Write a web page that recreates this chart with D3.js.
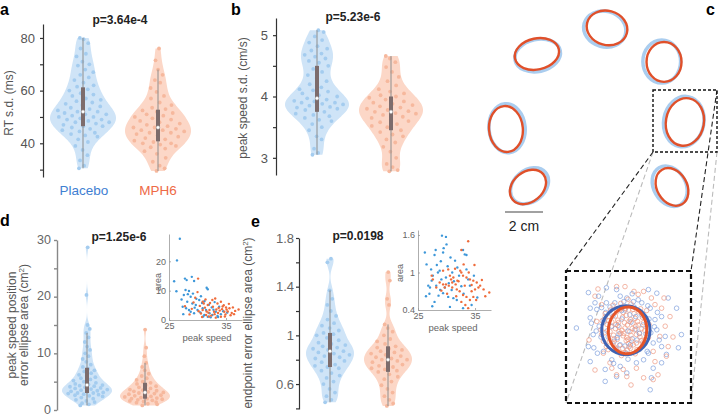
<!DOCTYPE html>
<html><head><meta charset="utf-8">
<script src="https://cdn.jsdelivr.net/npm/d3@7"></script>
<style>body{margin:0;background:#fff}svg{display:block}</style>
</head><body>
<svg id="fig" width="720" height="416"></svg>
<script>
// ---------------- DATA ----------------
const groups = ["Placebo", "MPH6"];
// panel a: RT s.d. (ms)
const aPlacebo = [30.5,31.5,33.5,35.5,37.5,39,40.5,41.5,42.5,43,43.5,44,44.5,45,45.5,46,46.5,46.5,47,47.5,48,48,48.5,49,49,49.5,50,50,50.5,51,51,51.5,52,52,52.5,53,53.5,54,54.5,55,55.5,56,56.5,57,58,58.5,59,60,60.5,61.5,62,63,64,65,66,67,68,69.5,70,71,73,74,76,78,79.5,80];
const aMPH6 = [29.5,30.5,31.5,33,34.5,36,37,38,38.5,39,39.5,40,40,40.5,41,41.5,42,42.5,43,43.5,44,44,44.5,45,45,45.5,46,46,46.5,47,47.5,48,48.5,49,49.5,50,50.5,51,51.5,52,52.5,53,53.5,54.5,55.5,57,58,59.5,61,63,64,66,68,71.5,76];
// panel b: peak speed s.d. (cm/s)
const bPlacebo = [3.05,3.08,3.15,3.3,3.35,3.45,3.5,3.55,3.6,3.62,3.65,3.68,3.7,3.72,3.75,3.78,3.8,3.8,3.82,3.83,3.85,3.87,3.88,3.9,3.9,3.92,3.93,3.95,3.97,4.0,4.02,4.05,4.08,4.1,4.12,4.15,4.2,4.25,4.3,4.35,4.4,4.45,4.5,4.55,4.58,4.62,4.65,4.68,4.7,4.75,4.78,4.82,4.88,4.92,4.98,5.05,5.08];
const bMPH6 = [2.78,2.8,2.85,2.9,3.0,3.1,3.18,3.25,3.3,3.35,3.38,3.42,3.45,3.5,3.52,3.55,3.58,3.6,3.62,3.65,3.67,3.7,3.72,3.73,3.75,3.76,3.78,3.8,3.82,3.84,3.86,3.88,3.9,3.92,3.95,3.98,4.0,4.02,4.05,4.08,4.12,4.18,4.25,4.32,4.4,4.48,4.56,4.62,4.66];
// panel d: peak speed position error ellipse area (cm^2)
const dPlacebo = [0.8,1.0,1.2,1.4,1.6,1.8,2.0,2.2,2.4,2.5,2.6,2.7,2.8,2.9,3.0,3.0,3.1,3.2,3.3,3.4,3.5,3.6,3.7,3.8,3.9,4.0,4.1,4.2,4.3,4.4,4.5,4.6,4.8,5.0,5.2,5.4,5.6,5.8,6.0,6.2,6.5,6.8,7.0,7.3,7.6,8.0,8.5,9.0,9.5,10.0,10.6,11.2,12.0,12.8,13.6,14.3,15.0,20.3,28.7];
const dMPH6 = [0.8,1.0,1.1,1.3,1.4,1.5,1.6,1.7,1.8,1.9,2.0,2.0,2.1,2.2,2.3,2.4,2.5,2.6,2.7,2.8,2.9,3.0,3.1,3.2,3.3,3.4,3.5,3.6,3.8,4.0,4.2,4.4,4.6,4.8,5.0,5.3,5.6,6.0,6.4,7.0,7.6,8.3,9.5,11.0,14.2];
// panel e: endpoint error ellipse area (cm^2)
const ePlacebo = [0.45,0.47,0.5,0.53,0.56,0.6,0.62,0.65,0.67,0.69,0.71,0.73,0.74,0.75,0.76,0.78,0.79,0.8,0.81,0.82,0.83,0.84,0.85,0.86,0.87,0.88,0.89,0.9,0.91,0.92,0.93,0.94,0.96,0.98,1.0,1.01,1.02,1.04,1.06,1.08,1.1,1.13,1.16,1.2,1.25,1.3,1.37,1.6,1.63];
const eMPH6 = [0.42,0.44,0.47,0.5,0.53,0.56,0.59,0.62,0.64,0.66,0.68,0.7,0.71,0.72,0.73,0.74,0.75,0.76,0.77,0.78,0.79,0.8,0.8,0.81,0.82,0.83,0.84,0.85,0.86,0.87,0.88,0.89,0.9,0.91,0.93,0.95,0.97,1.0,1.03,1.06,1.09,1.25,1.3,1.45,1.52];
const pValues = ["p=3.64e-4", "p=5.23e-6", "p=1.25e-6", "p=0.0198"];
// insets: [peak speed, area]
const dInsetPlacebo = [[26.9,27.7],[26.4,20.3],[25.9,13.2],[26.3,9.8],[27.8,14.1],[28.1,13.6],[29.0,14.7],[29.4,13.3],[31.6,11.0],[31.8,10.5],[27.2,7.0],[27.9,10.2],[28.5,9.9],[28.8,7.9],[28.2,6.2],[27.4,4.5],[29.1,5.6],[29.7,5.1],[30.3,6.8],[30.6,8.1],[30.9,4.0],[31.5,3.4],[32.1,2.3],[32.6,1.7],[31.2,1.7],[33.2,2.8],[33.8,4.5],[30.0,3.4],[29.4,2.3],[28.8,2.8],[32.5,4.3],[31.8,1.1],[33.5,1.4],[34.1,2.0],[28.5,3.4],[27.6,8.5],[28.3,8.8],[29.2,9.0],[29.8,7.2],[30.8,5.8],[31.2,6.4],[32.0,5.2],[32.8,3.5],[33.0,6.1],[34.5,3.0],[35.2,2.5],[29.5,4.2],[30.5,2.6],[31.0,1.2],[32.3,0.9],[33.6,1.0],[28.0,4.0],[27.5,2.0]];
const dInsetMPH6 = [[30.1,14.1],[27.8,4.7],[30.9,6.2],[31.8,5.1],[32.6,6.8],[33.5,5.6],[34.1,6.2],[35.0,4.3],[35.6,4.0],[36.2,4.3],[37.2,3.6],[34.7,2.8],[32.9,2.8],[32.1,3.4],[30.9,3.4],[31.5,1.7],[34.1,1.1],[29.3,6.0],[29.6,7.6],[30.4,4.8],[31.3,4.2],[31.9,2.5],[32.4,1.5],[33.0,2.0],[33.3,3.6],[33.9,3.2],[34.4,4.6],[34.9,1.9],[35.3,2.9],[35.8,1.6],[36.0,2.4],[36.6,3.1],[35.5,5.5],[34.6,5.0],[33.7,4.1],[32.7,4.5],[31.6,2.9],[30.6,2.2],[30.2,3.0],[31.1,5.6],[32.2,5.8],[33.1,7.3],[31.4,7.0],[30.0,9.5],[29.0,3.8],[28.6,1.9],[33.6,2.4],[34.3,3.7],[35.1,3.6],[36.4,2.0],[32.0,1.2],[33.2,0.8],[30.8,1.0],[34.8,1.2]];
const eInsetPlacebo = [[26.2,1.32],[26.5,1.13],[29.2,1.59],[29.9,1.57],[28.1,1.36],[27.9,1.28],[29.5,1.39],[29.4,1.32],[30.7,1.24],[31.5,1.19],[32.9,1.36],[33.2,1.29],[33.5,1.28],[28.8,1.03],[28.5,1.0],[27.6,0.95],[27.4,0.87],[26.8,0.79],[27.1,0.76],[28.2,0.79],[29.1,0.89],[29.9,0.92],[30.4,0.83],[31.0,1.0],[32.2,0.95],[33.5,1.05],[33.8,0.89],[29.4,0.67],[30.3,0.61],[31.2,0.59],[32.9,0.43],[27.5,0.46],[27.9,0.53],[30.6,0.45],[34.4,0.48],[31.8,0.56],[34.1,0.79],[28.3,1.12],[29.0,1.18],[30.2,1.1],[31.3,0.86],[32.6,0.78],[30.9,0.72],[29.7,0.76],[28.6,0.63],[26.4,0.62],[27.0,0.66],[33.0,0.66],[34.8,0.95],[35.4,0.6],[31.9,1.08],[30.0,1.45],[27.3,1.05],[28.9,0.72]];
const eInsetMPH6 = [[33.8,1.5],[32.6,1.36],[29.4,1.03],[30.3,1.05],[31.5,1.06],[32.4,1.03],[32.6,1.0],[32.9,0.95],[33.5,0.92],[34.1,0.89],[34.7,0.87],[35.3,0.84],[35.9,0.79],[36.5,0.73],[37.5,0.68],[29.9,0.81],[30.4,0.79],[31.0,0.76],[31.8,0.73],[32.3,0.7],[32.9,0.64],[33.5,0.61],[34.1,0.56],[33.8,0.43],[27.4,0.95],[27.6,0.89],[28.2,0.76],[28.8,0.84],[29.4,0.81],[29.7,0.76],[30.8,0.89],[31.0,0.84],[31.6,0.81],[31.9,0.87],[33.2,0.79],[34.4,0.7],[35.0,0.73],[35.6,0.76],[34.7,0.61],[32.6,0.53],[30.6,0.95],[31.2,0.92],[33.9,1.0],[34.9,1.12],[36.2,0.88],[33.0,1.13],[31.7,0.62],[30.1,0.66],[35.2,0.56],[36.8,0.62],[32.1,0.86],[34.4,0.8],[29.1,0.71],[33.3,0.48]];
// panel c: endpoint error ellipses per target (cm, deg)
const targetX = [0.58,-3.11,3.58,-4.74,4.68,-3.58,4.0];
const targetY = [4.32,2.95,2.53,-1.0,-0.63,-4.05,-4.05];
const mphRx = [1.08,1.18,0.92,0.89,1.0,1.05,1.05];
const mphRy = [0.9,0.82,1.05,1.21,1.26,0.79,0.79];
const mphAngle = [15,-12,0,-5,10,-40,60];
const plcDx = [-0.12,0.04,-0.12,0.06,-0.06,0.08,-0.12];
const plcDy = [-0.06,-0.08,0.02,0.04,0.02,0.06,0.04];
const plcScale = [1.04,1.03,1.08,1.07,1.06,1.05,1.07];
const scaleBarCm = 2;
// panel c magnified target: endpoints (mm, y down) and ellipses
const zoomPlacebo = [[-8.1,0],[-6.1,-5.9],[-5.8,-1.7],[-5.0,-4.2],[-5.3,1.1],[-6.1,3.1],[-5.8,5.6],[-4.6,4.2],[-3.3,6.9],[-3.3,8.9],[-1.4,8.1],[0.3,7.5],[4.2,10.3],[4.4,8.3],[4.7,6.7],[6.1,5.8],[6.9,4.4],[6.1,3.1],[6.7,1.4],[8.6,-3.3],[9.4,1.1],[8.9,3.3],[7.2,-5.0],[6.1,-1.9],[5.3,-5.8],[3.9,-6.4],[2.2,-4.7],[1.4,-4.4],[0.3,-5.0],[-1.4,-6.4],[-3.1,-6.7],[-4.4,-5.3],[-4.7,-3.1],[-3.5,-1.4],[-2.2,5.3],[-0.8,6.4],[1.9,5.8],[3.1,5.3],[3.9,4.2],[4.7,2.5],[5.3,0.3],[5.0,-1.4],[4.2,-3.3],[2.8,-4.2],[-1.7,-4.2],[-3.1,-4.2],[-5.8,-3.3],[-2,-2],[-1,1],[1,-1],[2,2],[-3,0.5],[3,-0.5],[0,3],[0,-3],[-1.5,3.5],[1.5,-3.5],[2.5,3.5],[-2.5,-3.5],[-4,1.5],[4,-1.5],[0.5,0.5],[-0.5,-1.5],[1.2,1.8],[-1.8,2.2],[3.5,1],[-3.5,-1],[-2.8,1.5],[2.8,-2.2],[0.8,-2.2],[-0.8,2.8],[1.8,0.2],[-1.2,-0.4],[3.2,2.6],[-3.2,-2.6],[0.2,4.2],[-0.2,-4.4],[4.3,0.8],[-4.3,-0.3],[-4.8,0.5],[4.9,-0.2],[0.5,5.2],[-0.8,-5.3],[-3.6,3.9],[3.8,-3.7],[3.7,3.9],[-3.9,-3.4],[-5.6,-0.8],[5.7,2.0],[1.2,-5.7],[-1.9,5.9],[2.4,0.9],[-2.2,-0.3],[0.9,2.8],[-0.6,-2.9],[1.8,-1.9],[-1.3,1.6],[-5.2,3.3],[5.4,-2.6]];
const zoomMPH6 = [[-1.4,-6.9],[0,-6.9],[1.5,-6.1],[3.1,-6.1],[4.4,-5.0],[2.2,-5.6],[-5.0,-5.3],[-3.9,-3.9],[-4.7,-1.1],[-3.9,1.1],[-3.6,4.2],[-2.2,6.7],[-1.4,7.8],[0.3,8.1],[3.1,8.3],[4.7,8.6],[5.0,5.6],[6.9,4.7],[7.2,3.1],[7.5,-1.9],[6.1,-3.3],[5.0,-3.9],[6.7,-0.3],[5.8,1.4],[4.7,3.9],[1.9,6.7],[-0.3,6.9],[-2.5,5.8],[-2.8,3.6],[-3.3,-1.9],[-6.0,2.0],[-4.5,-6.5],[6.5,-5.0],[5.5,7.8],[-5.0,7.0],[1.0,9.5],[8.0,1.5],[0,0],[0.8,0.6],[-0.7,0.9],[1.3,-0.8],[-1.1,-0.9],[0.3,1.6],[-0.4,-1.8],[1.9,1.1],[-1.9,1.2],[2.2,-0.5],[-2.3,-0.2],[0.6,2.6],[-0.9,2.9],[1.5,-2.4],[-1.4,-2.7],[2.7,2.1],[-2.6,2.3],[2.9,-1.8],[-2.8,-1.9],[0.1,-3.3],[0.4,3.7],[-3.4,0.8],[3.3,0.4],[1.0,-4.0],[-1.2,3.9],[2.0,3.6],[-2.0,-3.8],[3.6,-2.9],[-3.1,3.1],[1.7,4.3],[-0.6,4.6],[0.5,-4.8],[-1.0,-0.2],[0.9,-1.4],[-0.2,0.9],[1.6,0.3],[-1.6,0.1],[2.4,0.9],[-2.2,-1.0],[0.2,-2.1],[3.9,1.6],[-3.8,-1.2],[1.1,2.2],[-1.3,1.9],[2.6,-3.2],[-2.4,-3.0],[0.7,3.1],[-0.3,-2.6],[3.0,3.0],[-3.6,2.2],[0.4,-0.5],[-0.5,0.4],[1.0,1.2],[-1.2,-1.3],[1.7,-1.6],[-1.8,1.8],[0.2,2.1],[-0.1,-0.9],[2.5,1.5],[-2.5,0.6],[1.4,2.8],[-1.6,-2.0],[2.1,-1.1],[-0.8,-3.1],[0.9,3.4],[3.1,-0.9],[-3.0,-0.6],[1.2,0.1],[-0.3,1.3],[0.6,-3.0],[2.8,0.1],[-2.0,2.6],[1.9,2.5],[-1.7,3.2],[3.4,1.9],[-3.3,-2.4],[0.0,4.1],[2.3,-2.7],[-0.7,-4.1],[1.3,-3.1],[4.0,-0.6],[-4.0,0.3],[0.5,1.9],[-1.0,0.6],[1.8,-0.3],[-2.7,-1.2],[2.9,2.5],[-0.4,3.4],[0.7,-1.1],[-1.5,-0.6]];
const zoomEllPlacebo = [0.15, 0.36, 4.03, 4.08, 0];   // cx, cy, rx, ry, angle
const zoomEllMPH6 = [0.42, 0.4, 3.2, 3.9, 5];

// ---------------- STYLE ----------------
const FONT = "'Liberation Sans', Arial, Helvetica, sans-serif";
const COL = {
  bFill: "#cfe4f7", bPt: "#a4ccef", oFill: "#fcd7c7", oPt: "#f6b89d",
  box: "#7d6c6c", whisk: "#8e8e8e", bTxt: "#3f80d2", oTxt: "#ee6a47",
  insB: "#3d97d9", insO: "#ef6b3a", ellB: "#aacdef", ellO: "#e0502a",
  zB: "#3f63b3", zO: "#e4552a", zPtB: "#7e9fdc", zPtO: "#ee9a82"
};
const svg = d3.select("#fig");

function txt(g, x, y, s, o = {}) {
  const t = g.append("text").attr("x", x).attr("y", y).text(s)
    .attr("font-family", FONT).attr("font-size", o.size || 12)
    .attr("fill", o.fill || "#222").attr("text-anchor", o.anchor || "middle");
  if (o.bold) t.attr("font-weight", "bold");
  if (o.rot) t.attr("transform", `rotate(${o.rot},${x},${y})`);
  return t;
}

function yAxis(x, y, ticks, labels, o) {
  const ax = d3.axisLeft(y).tickValues(ticks).tickSizeInner(o.tick || 3).tickSizeOuter(0)
    .tickPadding(o.pad || 3).tickFormat(d => labels.includes(d) ? (o.fmt ? o.fmt(d) : d) : "");
  const a = svg.append("g").attr("transform", `translate(${x},0)`).call(ax);
  a.select(".domain").attr("stroke", o.color).attr("stroke-width", o.sw || 1.2);
  a.selectAll(".tick line").attr("stroke", o.color).attr("stroke-width", o.sw || 1.2);
  a.selectAll("text").attr("fill", o.tcol || "#555").attr("font-family", FONT).attr("font-size", o.size || 12);
  if (o.dy) a.selectAll("text").attr("dy", o.dy);
  return a;
}

function gauss(u) { return Math.exp(-0.5 * u * u); }

function violins(y, sets, bw, halfW) {
  sets.forEach((s, gi) => {
    const vals = s.vals;
    const lo = d3.min(vals), hi = d3.max(vals);
    const dens = v => d3.mean(vals, u => gauss((v - u) / bw));
    const grid = d3.range(0, 121).map(i => lo + (hi - lo) * i / 120);
    const dg = grid.map(v => [v, dens(v)]);
    const w = d3.scaleLinear([0, d3.max(dg, d => d[1])], [0, halfW]);
    const g = svg.append("g");
    g.append("path").datum(dg)
      .attr("d", d3.area().x0(d => s.cx - w(d[1])).x1(d => s.cx + w(d[1])).y(d => y(d[0])).curve(d3.curveMonotoneY))
      .attr("fill", s.fill).attr("stroke", "none");
    vals.forEach((v, i) => {
      const u = ((i * 0.6180339887 + gi * 0.37) % 1) * 2 - 1;
      g.append("circle").attr("cx", s.cx + u * w(dens(v)) * 0.85).attr("cy", y(v))
        .attr("r", 1.9).attr("fill", s.pt);
    });
    const sv = vals.slice().sort(d3.ascending);
    const q1 = d3.quantile(sv, 0.25), q2 = d3.quantile(sv, 0.5), q3 = d3.quantile(sv, 0.75);
    const iqr = q3 - q1;
    const wLo = d3.min(sv.filter(v => v >= q1 - 1.5 * iqr));
    const wHi = d3.max(sv.filter(v => v <= q3 + 1.5 * iqr));
    g.append("line").attr("x1", s.cx).attr("x2", s.cx).attr("y1", y(wLo)).attr("y2", y(wHi))
      .attr("stroke", COL.whisk).attr("stroke-width", 1);
    g.append("rect").attr("x", s.cx - 2).attr("width", 4).attr("y", y(q3)).attr("height", y(q1) - y(q3))
      .attr("fill", COL.box);
    g.append("circle").attr("cx", s.cx).attr("cy", y(q2)).attr("r", 1.8)
      .attr("fill", "#fff").attr("stroke", "#999").attr("stroke-width", 0.5);
  });
}

function inset(xS, yS, setB, setO, xTicks, yTicks, yFmt, labPos) {
  const g = svg.append("g");
  const ax = g.append("g").attr("transform", `translate(0,${yS.range()[0]})`)
    .call(d3.axisBottom(xS).tickValues(xTicks).tickSizeInner(-2).tickSizeOuter(0).tickPadding(3));
  const ay = g.append("g").attr("transform", `translate(${xS.range()[0]},0)`)
    .call(d3.axisLeft(yS).tickValues(yTicks).tickSizeInner(-2).tickSizeOuter(0).tickPadding(3).tickFormat(yFmt));
  [ax, ay].forEach(a => {
    a.select(".domain").attr("stroke", "#999").attr("stroke-width", 0.8);
    a.selectAll(".tick line").attr("stroke", "#999").attr("stroke-width", 0.8);
    a.selectAll("text").attr("fill", "#666").attr("font-family", FONT).attr("font-size", 9);
  });
  setB.forEach(p => g.append("circle").attr("cx", xS(p[0])).attr("cy", yS(p[1])).attr("r", 1.2).attr("fill", COL.insB));
  setO.forEach(p => g.append("circle").attr("cx", xS(p[0])).attr("cy", yS(p[1])).attr("r", 1.2).attr("fill", COL.insO));
  txt(g, labPos.ax, labPos.ay, "area", { size: 9, fill: "#666", rot: -90 });
  txt(g, labPos.sx, labPos.sy, "peak speed", { size: 9.5, fill: "#666" });
}

// ---------------- PANEL A ----------------
const yA = d3.scaleLinear([27.2, 85.3], [177, 24]);
violins(yA, [{ vals: aPlacebo, cx: 83, fill: COL.bFill, pt: COL.bPt }, { vals: aMPH6, cx: 158, fill: COL.oFill, pt: COL.oPt }], 3.2, 33);
yAxis(43, yA, [30, 40, 50, 60, 70, 80], [40, 60, 80], { color: "#333", pad: 5, size: 13 });
txt(svg, 13, 103, "RT s.d. (ms)", { rot: -90, fill: "#555", size: 12 });
txt(svg, 120, 24, pValues[0], { bold: true, size: 12 });
txt(svg, 84, 195, groups[0], { size: 13.5, fill: COL.bTxt });
txt(svg, 158, 195, groups[1], { size: 13.5, fill: COL.oTxt });
txt(svg, 0, 15, "a", { bold: true, size: 16, anchor: "start", fill: "#000" });

// ---------------- PANEL B ----------------
const yB = d3.scaleLinear([2.72, 5.28], [175, 18]);
violins(yB, [{ vals: bPlacebo, cx: 317, fill: COL.bFill, pt: COL.bPt }, { vals: bMPH6, cx: 391, fill: COL.oFill, pt: COL.oPt }], 0.14, 32);
yAxis(276, yB, [3, 3.5, 4, 4.5, 5], [3, 4, 5], { color: "#333", pad: 5, size: 13 });
txt(svg, 247, 98, "peak speed s.d. (cm/s)", { rot: -90, fill: "#555", size: 12 });
txt(svg, 353, 21, pValues[1], { bold: true, size: 12 });
txt(svg, 231, 15, "b", { bold: true, size: 16, anchor: "start", fill: "#000" });

// ---------------- PANEL D ----------------
const yD = d3.scaleLinear([0, 30], [410, 240]);
violins(yD, [{ vals: dPlacebo, cx: 87, fill: COL.bFill, pt: COL.bPt }, { vals: dMPH6, cx: 145, fill: COL.oFill, pt: COL.oPt }], 0.9, 25);
yAxis(57, yD, [0, 5, 10, 15, 20, 25, 30], [0, 10, 20, 30], { color: "#888", pad: 3, size: 12.5, tcol: "#666", sw: 1.4, dy: "0.25em" });
{
  const t = txt(svg, 0, 0, "", { fill: "#555", size: 12 }).attr("transform", "translate(18,325) rotate(-90)");
  t.append("tspan").attr("x", 0).attr("dy", -2).text("peak speed position");
  t.append("tspan").attr("x", 0).attr("dy", 12).text("error ellipse area (cm");
  t.append("tspan").attr("dy", -4).attr("font-size", 8).text("2");
  t.append("tspan").attr("dy", 4).text(")");
}
txt(svg, 119, 241, pValues[2], { bold: true, size: 12 });
txt(svg, 0, 226, "d", { bold: true, size: 16, anchor: "start", fill: "#000" });
inset(d3.scaleLinear([25, 37.8], [169, 242]), d3.scaleLinear([0, 29.3], [320, 234]),
  dInsetPlacebo, dInsetMPH6, [25, 35], [0, 10, 20], d => d,
  { ax: 161, ay: 282, sx: 207, sy: 341 });

// ---------------- PANEL E ----------------
const yE = d3.scaleLinear([0.395, 1.8], [409, 238]);
violins(yE, [{ vals: ePlacebo, cx: 330, fill: COL.bFill, pt: COL.bPt }, { vals: eMPH6, cx: 388, fill: COL.oFill, pt: COL.oPt }], 0.055, 24);
yAxis(299, yE, [0.4, 0.6, 0.8, 1.0, 1.2, 1.4, 1.6, 1.8], [0.6, 1.0, 1.4, 1.8], { color: "#333", pad: 2, size: 13, tcol: "#666", fmt: d => d === 1 ? "1" : d3.format(".1f")(d) });
{
  const t = txt(svg, 0, 0, "", { fill: "#555", size: 12 }).attr("transform", "translate(252,323) rotate(-90)");
  t.append("tspan").text("endpoint error ellipse area (cm");
  t.append("tspan").attr("dy", -4).attr("font-size", 8).text("2");
  t.append("tspan").attr("dy", 4).text(")");
}
txt(svg, 358, 240, pValues[3], { bold: true, size: 12 });
txt(svg, 251, 227, "e", { bold: true, size: 16, anchor: "start", fill: "#000" });
inset(d3.scaleLinear([25, 37.8], [418, 491]), d3.scaleLinear([0.4, 1.68], [310, 230]),
  eInsetPlacebo, eInsetMPH6, [25, 35], [0.4, 1, 1.6], d => d === 1 ? "1" : d,
  { ax: 403, ay: 273, sx: 453, sy: 331 });

// ---------------- PANEL C ----------------
const cx = d3.scaleLinear([0, 1], [596, 615]);
const cy = d3.scaleLinear([0, 1], [110, 91]);
const pxPerCm = cx(1) - cx(0);
const gc = svg.append("g");
targetX.forEach((tx, i) => {
  const bx = cx(tx + plcDx[i]), by = cy(targetY[i] + plcDy[i]);
  gc.append("ellipse").attr("cx", bx).attr("cy", by)
    .attr("rx", mphRx[i] * plcScale[i] * pxPerCm).attr("ry", mphRy[i] * plcScale[i] * pxPerCm)
    .attr("transform", `rotate(${mphAngle[i]},${bx},${by})`)
    .attr("fill", "none").attr("stroke", COL.ellB).attr("stroke-width", 3.5);
  const ox = cx(tx), oy = cy(targetY[i]);
  gc.append("ellipse").attr("cx", ox).attr("cy", oy)
    .attr("rx", mphRx[i] * pxPerCm).attr("ry", mphRy[i] * pxPerCm)
    .attr("transform", `rotate(${mphAngle[i]},${ox},${oy})`)
    .attr("fill", "none").attr("stroke", COL.ellO).attr("stroke-width", 2.4);
});
// scale bar
gc.append("line").attr("x1", 505).attr("x2", 505 + scaleBarCm * pxPerCm).attr("y1", 212).attr("y2", 212)
  .attr("stroke", "#444").attr("stroke-width", 1.2);
txt(gc, 505 + scaleBarCm * pxPerCm / 2, 231, scaleBarCm + " cm", { size: 14, fill: "#222" });
txt(svg, 706, 15, "c", { bold: true, size: 16, anchor: "start", fill: "#000" });
// zoom boxes
const sb = { x0: 653, y0: 90, x1: 717, y1: 152 };
const bb = { x0: 566, y0: 271, x1: 691, y1: 403 };
[[sb.x0, sb.y1, bb.x0, bb.y1, "#bbb"], [sb.x1, sb.y1, bb.x1, bb.y1, "#bbb"],
 [sb.x0, sb.y1, bb.x0, bb.y0, "#222"], [sb.x1, sb.y0, bb.x1, bb.y0, "#222"]].forEach(l => {
  gc.append("line").attr("x1", l[0]).attr("y1", l[1]).attr("x2", l[2]).attr("y2", l[3])
    .attr("stroke", l[4]).attr("stroke-width", 1.1).attr("stroke-dasharray", "5,3");
});
gc.append("rect").attr("x", sb.x0).attr("y", sb.y0).attr("width", sb.x1 - sb.x0).attr("height", sb.y1 - sb.y0)
  .attr("fill", "none").attr("stroke", "#111").attr("stroke-width", 1.4).attr("stroke-dasharray", "3,2");
const zx = d3.scaleLinear([0, 1], [625, 631]);
const zy = d3.scaleLinear([0, 1], [328, 334]);
const zpx = zx(1) - zx(0);
const zs = [];
zoomPlacebo.forEach((p, i) => zs.push({ p, c: COL.zPtB, k: i * 2 }));
zoomMPH6.forEach((p, i) => zs.push({ p, c: COL.zPtO, k: i * 2 + 1 }));
zs.sort((a, b) => a.k - b.k).forEach(d => {
  gc.append("circle").attr("cx", zx(d.p[0])).attr("cy", zy(d.p[1])).attr("r", 2.3)
    .attr("fill", "none").attr("stroke", d.c).attr("stroke-width", 0.7);
});
[[zoomEllPlacebo, COL.zB], [zoomEllMPH6, COL.zO]].forEach(([e, c]) => {
  const ex = zx(e[0]), ey = zy(e[1]);
  gc.append("ellipse").attr("cx", ex).attr("cy", ey).attr("rx", e[2] * zpx).attr("ry", e[3] * zpx)
    .attr("transform", `rotate(${e[4]},${ex},${ey})`)
    .attr("fill", "none").attr("stroke", c).attr("stroke-width", 3);
});
gc.append("rect").attr("x", bb.x0).attr("y", bb.y0).attr("width", bb.x1 - bb.x0).attr("height", bb.y1 - bb.y0)
  .attr("fill", "none").attr("stroke", "#111").attr("stroke-width", 2.2).attr("stroke-dasharray", "5,3");
</script>
</body></html>
